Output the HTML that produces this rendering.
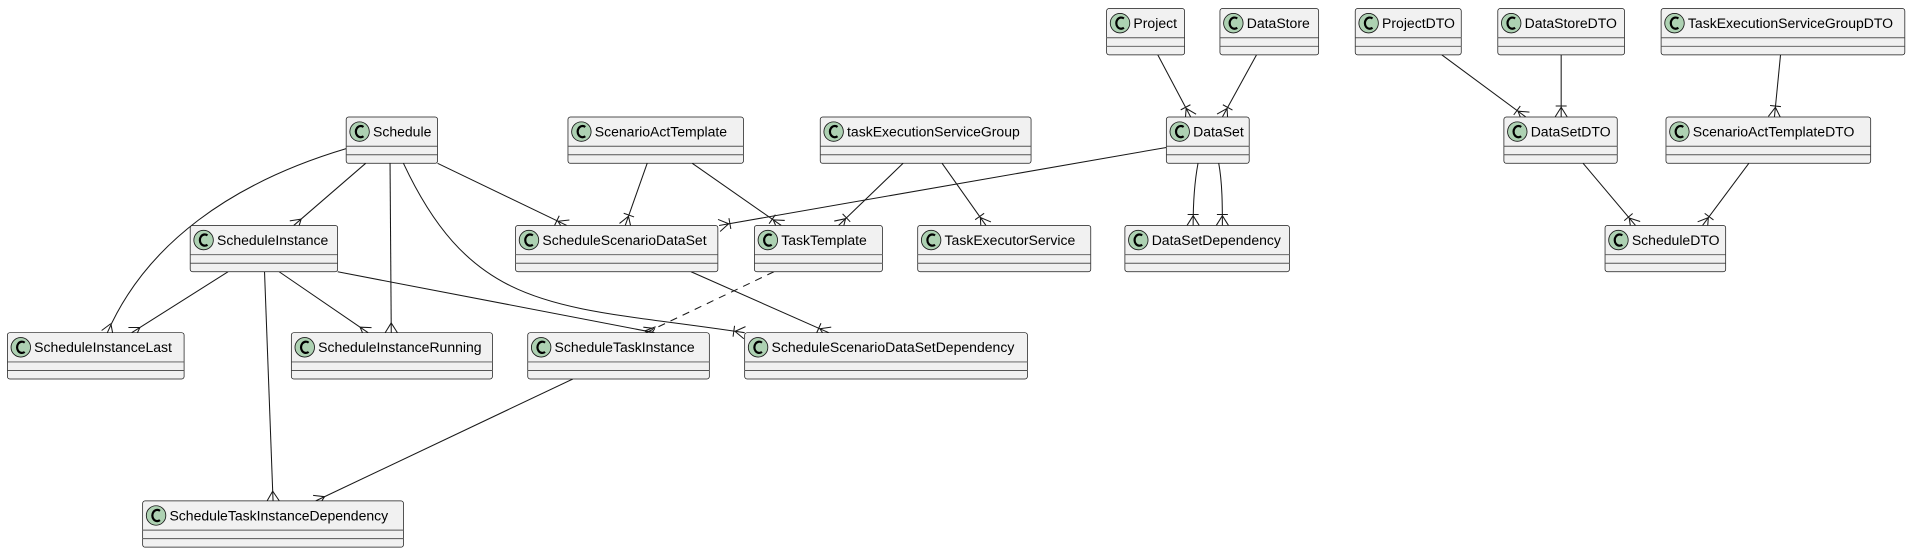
<!DOCTYPE html>
<html><head><meta charset="utf-8"><style>
html,body{margin:0;padding:0;background:#fff;}
svg{display:block}
text{font-family:"Liberation Sans","DejaVu Sans",sans-serif;font-size:11.5px;fill:#000}
</style></head><body>
<svg width="1911" height="554" viewBox="0 0 1568 454.6" xmlns="http://www.w3.org/2000/svg" xmlns:xlink="http://www.w3.org/1999/xlink">
<defs>
<g id="c"><circle cx="11" cy="12" r="8" fill="#add1b2" stroke="#181818" stroke-width="0.7"/><path d="M14.2,8.2 A4,4.6 0 1 0 14.2,15.8" fill="none" stroke="#000" stroke-width="1.8"/></g>
<path id="f" d="M-8,0 L0,5 M-8,0 L0,-5" fill="none" stroke="#181818" stroke-width="0.85"/>
<path id="fb" d="M-8,0 L0,5 M-8,0 L0,-5 M-9,4.5 L-9,-4.5" fill="none" stroke="#181818" stroke-width="0.85"/>
</defs>
<g fill="none" stroke="#181818" stroke-width="0.85">
<path d="M950,45 L977,96"/>
<path d="M1031,45 L1003,96"/>
<path d="M1183,45 L1252,96"/>
<path d="M1281,45 L1281,96"/>
<path d="M1461,45 L1456,96"/>
<path d="M1299,134 L1342,185"/>
<path d="M1435,134 L1397,185"/>
<path d="M983,134 C980,150 979,170 979,185"/>
<path d="M1000,134 C1003,150 1003,170 1003,185"/>
<path d="M957,121 L590,185"/>
<path d="M359,134 L465,185"/>
<path d="M531,134 L513,185"/>
<path d="M568,134 L641,185"/>
<path d="M741,134 L688,185"/>
<path d="M773,134 L809,185"/>
<path d="M300,134 L241,185"/>
<path d="M284,122 C190,150 120,200 88,273"/>
<path d="M320,134 L321,273"/>
<path d="M331,134 C390,260 460,250 611,273"/>
<path d="M187,223 L108,273"/>
<path d="M229,223 L302,273"/>
<path d="M277,223 L537,273"/>
<path d="M217,223 L224,411"/>
<path d="M470,311 L259,411"/>
<path d="M635,223 L530,273" stroke-dasharray="6,5"/>
<path d="M567,223 L680,273"/>
</g>
<g>
<use xlink:href="#fb" transform="translate(977,96) rotate(62.1)"/>
<use xlink:href="#fb" transform="translate(1003,96) rotate(118.8)"/>
<use xlink:href="#fb" transform="translate(1252,96) rotate(36.5)"/>
<use xlink:href="#fb" transform="translate(1281,96) rotate(90)"/>
<use xlink:href="#fb" transform="translate(1456,96) rotate(95.6)"/>
<use xlink:href="#fb" transform="translate(1342,185) rotate(49.9)"/>
<use xlink:href="#fb" transform="translate(1397,185) rotate(126.7)"/>
<use xlink:href="#fb" transform="translate(979,185) rotate(90)"/>
<use xlink:href="#fb" transform="translate(1003,185) rotate(90)"/>
<use xlink:href="#fb" transform="translate(590,185) rotate(170.1)"/>
<use xlink:href="#fb" transform="translate(465,185) rotate(25.7)"/>
<use xlink:href="#fb" transform="translate(513,185) rotate(109.4)"/>
<use xlink:href="#fb" transform="translate(641,185) rotate(34.9)"/>
<use xlink:href="#fb" transform="translate(688,185) rotate(136.1)"/>
<use xlink:href="#fb" transform="translate(809,185) rotate(54.8)"/>
<use xlink:href="#f" transform="translate(241,185) rotate(139.2)"/>
<use xlink:href="#f" transform="translate(88,273) rotate(111.3)"/>
<use xlink:href="#f" transform="translate(321,273) rotate(89.6)"/>
<use xlink:href="#fb" transform="translate(611,273) rotate(7.8)"/>
<use xlink:href="#f" transform="translate(108,273) rotate(147.7)"/>
<use xlink:href="#f" transform="translate(302,273) rotate(34.4)"/>
<use xlink:href="#f" transform="translate(537,273) rotate(10.9)"/>
<use xlink:href="#f" transform="translate(224,411) rotate(87.9)"/>
<use xlink:href="#f" transform="translate(259,411) rotate(154.6)"/>
<use xlink:href="#f" transform="translate(530,273) rotate(154.5)"/>
<use xlink:href="#fb" transform="translate(680,273) rotate(23.9)"/>
</g>
<g fill="#f1f1f1" stroke="#181818" stroke-width="0.6">
<rect x="908" y="7" width="64" height="38" rx="2"/>
<rect x="1001" y="7" width="81" height="38" rx="2"/>
<rect x="1112" y="7" width="87" height="38" rx="2"/>
<rect x="1229" y="7" width="104" height="38" rx="2"/>
<rect x="1363" y="7" width="200" height="38" rx="2"/>
<rect x="284" y="96" width="75" height="38" rx="2"/>
<rect x="466" y="96" width="144" height="38" rx="2"/>
<rect x="673" y="96" width="173" height="38" rx="2"/>
<rect x="957" y="96" width="68" height="38" rx="2"/>
<rect x="1234" y="96" width="93" height="38" rx="2"/>
<rect x="1367" y="96" width="168" height="38" rx="2"/>
<rect x="156" y="185" width="121" height="38" rx="2"/>
<rect x="423" y="185" width="166" height="38" rx="2"/>
<rect x="619" y="185" width="105" height="38" rx="2"/>
<rect x="753" y="185" width="142" height="38" rx="2"/>
<rect x="923" y="185" width="135" height="38" rx="2"/>
<rect x="1317" y="185" width="99" height="38" rx="2"/>
<rect x="6" y="273" width="145" height="38" rx="2"/>
<rect x="239" y="273" width="165" height="38" rx="2"/>
<rect x="433" y="273" width="149" height="38" rx="2"/>
<rect x="611" y="273" width="232" height="38" rx="2"/>
<rect x="117" y="411" width="214" height="38" rx="2"/>
</g>
<g stroke="#555" stroke-width="0.8">
<path d="M908,31h64M908,38h64M1001,31h81M1001,38h81M1112,31h87M1112,38h87M1229,31h104M1229,38h104M1363,31h200M1363,38h200"/>
<path d="M284,120h75M284,127h75M466,120h144M466,127h144M673,120h173M673,127h173M957,120h68M957,127h68M1234,120h93M1234,127h93M1367,120h168M1367,127h168"/>
<path d="M156,209h121M156,216h121M423,209h166M423,216h166M619,209h105M619,216h105M753,209h142M753,216h142M923,209h135M923,216h135M1317,209h99M1317,216h99"/>
<path d="M6,297h145M6,304h145M239,297h165M239,304h165M433,297h149M433,304h149M611,297h232M611,304h232M117,435h214M117,442h214"/>
</g>
<g>
<use xlink:href="#c" x="908" y="7"/><use xlink:href="#c" x="1001" y="7"/><use xlink:href="#c" x="1112" y="7"/><use xlink:href="#c" x="1229" y="7"/><use xlink:href="#c" x="1363" y="7"/>
<use xlink:href="#c" x="284" y="96"/><use xlink:href="#c" x="466" y="96"/><use xlink:href="#c" x="673" y="96"/><use xlink:href="#c" x="957" y="96"/><use xlink:href="#c" x="1234" y="96"/><use xlink:href="#c" x="1367" y="96"/>
<use xlink:href="#c" x="156" y="185"/><use xlink:href="#c" x="423" y="185"/><use xlink:href="#c" x="619" y="185"/><use xlink:href="#c" x="753" y="185"/><use xlink:href="#c" x="923" y="185"/><use xlink:href="#c" x="1317" y="185"/>
<use xlink:href="#c" x="6" y="273"/><use xlink:href="#c" x="239" y="273"/><use xlink:href="#c" x="433" y="273"/><use xlink:href="#c" x="611" y="273"/><use xlink:href="#c" x="117" y="411"/>
</g>
<g>
<text x="930" y="23">Project</text>
<text x="1023" y="23">DataStore</text>
<text x="1134" y="23">ProjectDTO</text>
<text x="1251" y="23">DataStoreDTO</text>
<text x="1385" y="23">TaskExecutionServiceGroupDTO</text>
<text x="306" y="112">Schedule</text>
<text x="488" y="112">ScenarioActTemplate</text>
<text x="695" y="112">taskExecutionServiceGroup</text>
<text x="979" y="112">DataSet</text>
<text x="1256" y="112">DataSetDTO</text>
<text x="1389" y="112">ScenarioActTemplateDTO</text>
<text x="178" y="201">ScheduleInstance</text>
<text x="445" y="201">ScheduleScenarioDataSet</text>
<text x="641" y="201">TaskTemplate</text>
<text x="775" y="201">TaskExecutorService</text>
<text x="945" y="201">DataSetDependency</text>
<text x="1339" y="201">ScheduleDTO</text>
<text x="28" y="289">ScheduleInstanceLast</text>
<text x="261" y="289">ScheduleInstanceRunning</text>
<text x="455" y="289">ScheduleTaskInstance</text>
<text x="633" y="289">ScheduleScenarioDataSetDependency</text>
<text x="139" y="427">ScheduleTaskInstanceDependency</text>
</g>
</svg>
</body></html>
